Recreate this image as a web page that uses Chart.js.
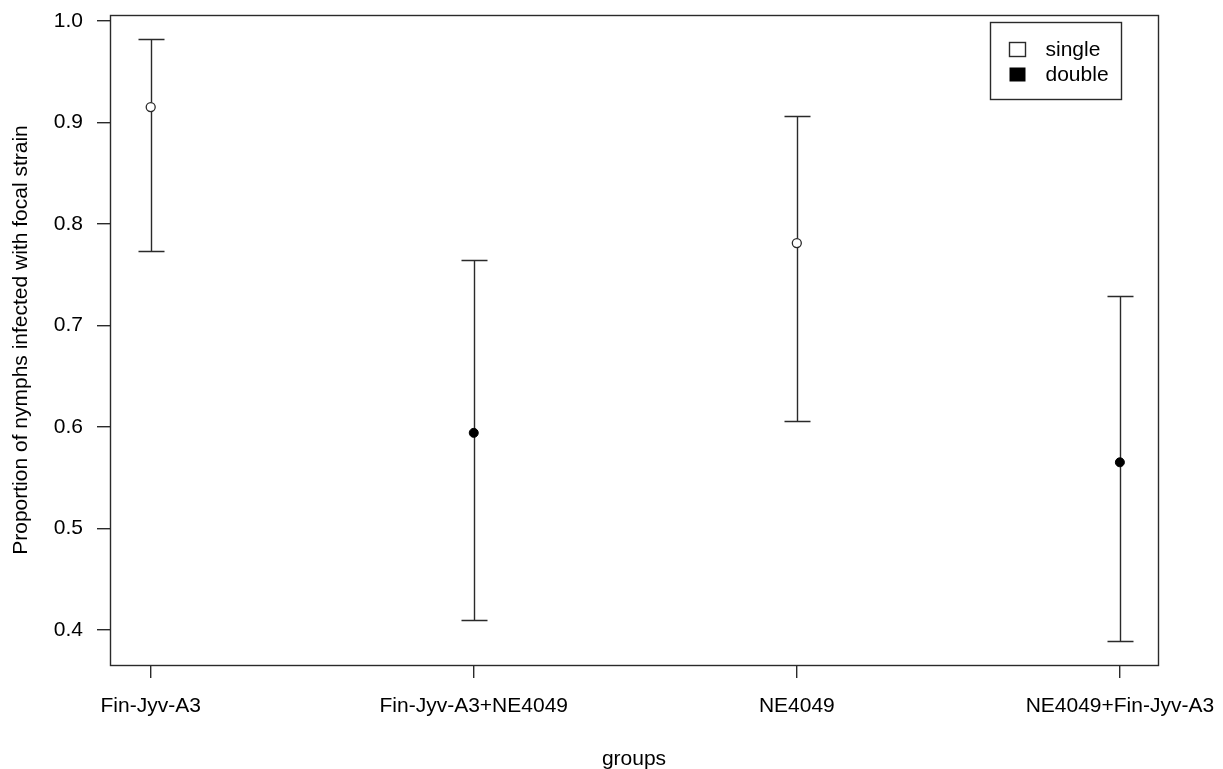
<!DOCTYPE html>
<html>
<head>
<meta charset="utf-8">
<title>Proportion of nymphs infected with focal strain</title>
<script src="https://cdn.jsdelivr.net/npm/chart.js@4.4.1/dist/chart.umd.min.js"></script>
<style>
  html, body { margin: 0; padding: 0; background: #fff; }
  canvas { display: block; }
</style>
</head>
<body>
<canvas id="chart" width="1223" height="769"></canvas>
<script>
// groups on the x axis, infection type, estimate and 95% interval
const groups = ['Fin-Jyv-A3', 'Fin-Jyv-A3+NE4049', 'NE4049', 'NE4049+Fin-Jyv-A3'];
const infection = ['single', 'double', 'single', 'double'];
const proportion = [0.915, 0.594, 0.781, 0.565];
const ciLower = [0.773, 0.410, 0.606, 0.389];
const ciUpper = [0.982, 0.764, 0.906, 0.729];
const yTicks = [0.4, 0.5, 0.6, 0.7, 0.8, 0.9, 1.0];
const legendLabels = ['single', 'double'];

const FONT = "'Liberation Sans', Arial, sans-serif";
const INK = '#000';
const LINE = '#2a2a2a';
const LW = 1.4;

// base-graphics style limits: data range widened by about 4% on each side
const yLo = Math.min(...ciLower), yHi = Math.max(...ciUpper);
const yPad = (yHi - yLo) * 0.04;
const xMin = 0.874, xMax = 4.118;

function pointsFor(kind) {
  const pts = [];
  groups.forEach((g, i) => {
    if (infection[i] === kind) pts.push({ x: i + 1, y: proportion[i], i });
  });
  return pts;
}

// whiskers with caps, then the plot box and the legend
const rPlotParts = {
  id: 'rPlotParts',
  beforeDatasetsDraw(chart) {
    const { ctx, scales: { x, y } } = chart;
    ctx.save();
    ctx.strokeStyle = LINE;
    ctx.lineWidth = LW;
    groups.forEach((g, i) => {
      const px = Math.round(x.getPixelForValue(i + 1)) + 0.5;
      const top = Math.round(y.getPixelForValue(ciUpper[i])) + 0.5;
      const bot = Math.round(y.getPixelForValue(ciLower[i])) + 0.5;
      ctx.beginPath();
      ctx.moveTo(px, top); ctx.lineTo(px, bot);
      ctx.moveTo(px - 13, top); ctx.lineTo(px + 13, top);
      ctx.moveTo(px - 13, bot); ctx.lineTo(px + 13, bot);
      ctx.stroke();
    });
    ctx.restore();
  },
  afterDraw(chart) {
    const { ctx, chartArea: a } = chart;
    ctx.save();
    ctx.strokeStyle = LINE;
    ctx.lineWidth = LW;
    ctx.strokeRect(a.left + 0.5, a.top + 0.5, a.right - a.left, a.bottom - a.top);

    // legend, top right inside the box
    const lx = a.right - 167.5, ly = a.top + 7.5, lw = 131, lh = 77;
    ctx.fillStyle = '#fff';
    ctx.fillRect(lx, ly, lw, lh);
    ctx.strokeRect(lx, ly, lw, lh);
    ctx.font = '21px ' + FONT;
    ctx.textBaseline = 'middle';
    legendLabels.forEach((lab, k) => {
      const cy = ly + 27 + k * 25;
      if (lab === 'single') {
        ctx.fillStyle = '#fff';
        ctx.fillRect(lx + 19, cy - 7, 16, 14);
        ctx.strokeRect(lx + 19, cy - 7, 16, 14);
      } else {
        ctx.fillStyle = INK;
        ctx.fillRect(lx + 19, cy - 7, 16, 14);
      }
      ctx.fillStyle = INK;
      ctx.fillText(lab, lx + 55, cy + 1);
    });
    ctx.restore();
  }
};

const tickFont = { family: FONT, size: 21 };

new Chart(document.getElementById('chart'), {
  type: 'scatter',
  data: {
    datasets: [
      {
        label: 'single',
        data: pointsFor('single'),
        pointStyle: 'circle',
        pointRadius: 4.5,
        pointBackgroundColor: '#fff',
        pointBorderColor: LINE,
        pointBorderWidth: 1.3
      },
      {
        label: 'double',
        data: pointsFor('double'),
        pointStyle: 'circle',
        pointRadius: 4.5,
        pointBackgroundColor: INK,
        pointBorderColor: INK,
        pointBorderWidth: 1
      }
    ]
  },
  options: {
    responsive: false,
    animation: false,
    devicePixelRatio: 1,
    layout: { padding: { top: 15, right: 65, left: 0, bottom: 0 } },
    plugins: {
      legend: { display: false },
      tooltip: { enabled: false }
    },
    scales: {
      x: {
        type: 'linear',
        min: xMin,
        max: xMax,
        afterBuildTicks: s => { s.ticks = groups.map((g, i) => ({ value: i + 1 })); },
        afterFit: s => { s.height = 104; s.paddingLeft = 0; s.paddingRight = 0; },
        ticks: {
          callback: v => groups[v - 1],
          color: INK,
          font: tickFont,
          padding: 16,
          maxRotation: 0,
          autoSkip: false
        },
        grid: { drawOnChartArea: false, drawTicks: true, tickLength: 13, lineWidth: LW, color: LINE, tickColor: LINE },
        border: { display: false },
        title: {
          display: true,
          text: 'groups',
          color: INK,
          font: tickFont,
          padding: { top: 0, bottom: -3 }
        }
      },
      y: {
        type: 'linear',
        min: yLo - yPad,
        max: yHi + yPad,
        afterBuildTicks: s => { s.ticks = yTicks.map(v => ({ value: v })); },
        afterFit: s => { s.width = 110; s.paddingTop = 0; s.paddingBottom = 0; },
        ticks: {
          callback: v => v.toFixed(1),
          color: INK,
          font: tickFont,
          padding: 14
        },
        grid: { drawOnChartArea: false, drawTicks: true, tickLength: 13, lineWidth: LW, color: LINE, tickColor: LINE },
        border: { display: false },
        title: {
          display: true,
          text: 'Proportion of nymphs infected with focal strain',
          color: INK,
          font: tickFont,
          padding: { top: 9, bottom: 0 }
        }
      }
    }
  },
  plugins: [rPlotParts]
});
</script>
</body>
</html>
